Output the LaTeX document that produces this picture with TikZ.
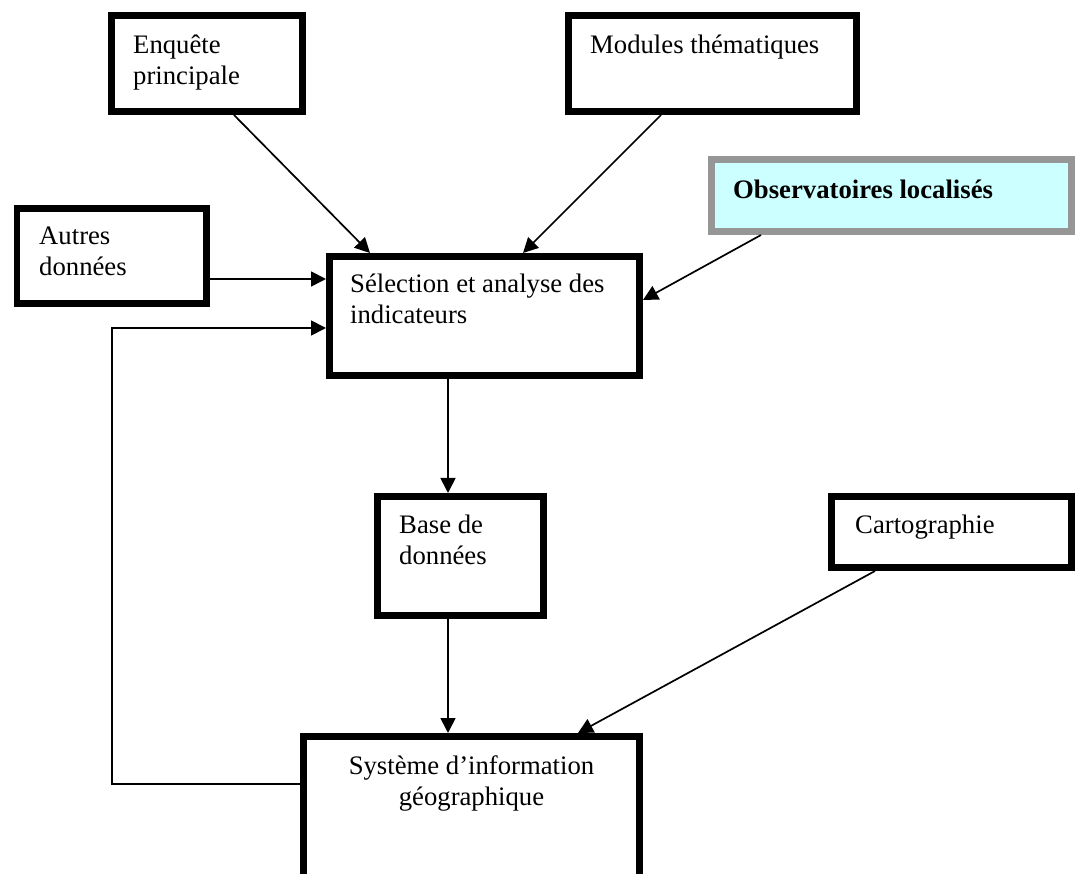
\documentclass[tikz,border=0pt]{standalone}
\usepackage{fontspec}
\setmainfont{Liberation Serif}
\usetikzlibrary{arrows.meta}
\definecolor{cyanclair}{HTML}{CCFFFF}
\definecolor{grisbord}{HTML}{969696}

\begin{document}
\begin{tikzpicture}[>={Triangle[length=15pt,width=15pt]},x=1pt,y=-1pt,
	boite/.style={draw, line width=6.7pt, inner sep=0pt, anchor=north west},
	texte/.style={inner sep=0pt, anchor=north west, align=left, font=\fontsize{26.7}{31}\selectfont},
	fleche/.style={->, line width=1.7pt}]
			\useasboundingbox (0,0) rectangle (1077,874);
			\clip (0,0) rectangle (1077,874);
			%boites
			\node[boite, minimum width=191.3pt, minimum height=95.8pt] (enq) at (108,12.5) {};
			\node[boite, minimum width=288.3pt, minimum height=95.8pt] (mod) at (565,12.5) {};
			\node[boite, draw=grisbord, fill=cyanclair, line width=7pt, minimum width=360pt, minimum height=72pt] (obs) at (708,156) {};
			\node[boite, minimum width=189.8pt, minimum height=95.3pt] (aut) at (13.5,205) {};
			\node[boite, minimum width=310.3pt, minimum height=119.3pt] (sel) at (326,253) {};
			\node[boite, minimum width=166.3pt, minimum height=119.3pt] (bdd) at (374,493) {};
			\node[boite, minimum width=240.3pt, minimum height=71.3pt] (cart) at (828,493) {};
			\node[boite, minimum width=336.3pt, minimum height=213.3pt] (sig) at (300,733) {};
			%textes
			\node[texte] (enqT) at (133,35) {Enquête\\principale};
			\node[texte] (modT) at (590,35) {Modules thématiques};
			\node[texte, font=\fontsize{26.7}{31}\selectfont\bfseries] (obsT) at (733,180) {Observatoires localisés};
			\node[texte] (autT) at (39,227) {Autres\\données};
			\node[texte] (selT) at (350,274) {Sélection et analyse des\\indicateurs};
			\node[texte] (bddT) at (399,515) {Base de\\données};
			\node[texte] (cartT) at (855,515) {Cartographie};
			\node[texte, anchor=north, align=center] (sigT) at (471.5,755) {Système d’information\\géographique};
			%fleches
			\coordinate (retour) at (112,784);
			\draw[fleche] ([xshift=27pt]enq.south) -- ([xshift=-114.5pt]sel.north);
			\draw[fleche] ([xshift=96pt]mod.south west) -- ([xshift=38.5pt]sel.north);
			\draw[fleche] ([xshift=-130.5pt]obs.south) -- ([yshift=16pt]sel.east);
			\draw[fleche] ([yshift=-23pt]aut.east) -- ([yshift=-23pt]aut.east -| sel.west);
			\draw[fleche] (sig.west |- retour) -- (retour) |- ([yshift=-12pt]sel.west);
			\draw[fleche] ([xshift=-12.5pt]bdd.north |- sel.south) -- ([xshift=-12.5pt]bdd.north);
			\draw[fleche] ([xshift=-12.5pt]bdd.south) -- ([xshift=-12.5pt]bdd.south |- sig.north);
			\draw[fleche] ([xshift=-76.5pt]cart.south) -- ([xshift=106.5pt]sig.north);
\end{tikzpicture}
\end{document}
